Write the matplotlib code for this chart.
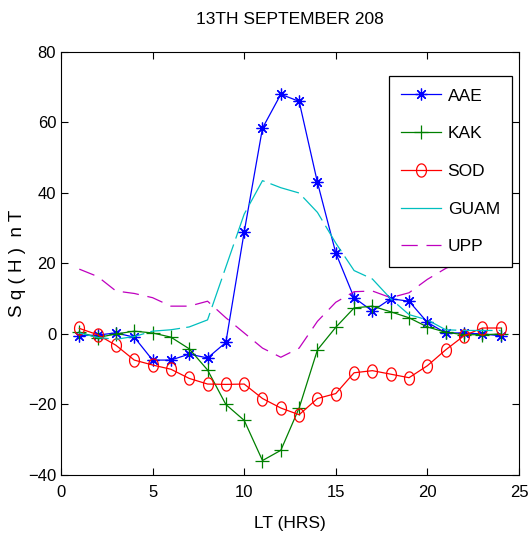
import numpy as np
import matplotlib
matplotlib.use('Agg')
import matplotlib.pyplot as plt
from matplotlib.path import Path
from matplotlib.lines import Line2D

plt.rcParams['font.family'] = ['Liberation Sans Narrow', 'Liberation Sans', 'DejaVu Sans']

lt = list(range(1, 25))
aae = [-0.5, -0.3, 0.3, -0.9, -7.4, -7.4, -5.7, -6.8, -2.4, 28.9, 58.4, 68.0,
       66.0, 43.0, 23.0, 10.3, 6.5, 10.0, 9.3, 3.3, 0.3, 0.3, 0.0, -0.5]
kak = [0.5, -1.0, 0.0, 0.8, 0.3, -0.9, -4.2, -10.2, -20.0, -24.5, -35.9, -33.0,
       -21.0, -4.5, 1.9, 7.4, 7.9, 6.3, 4.6, 2.0, 0.5, -0.2, -0.2, 0.0]
sod = [1.6, -0.2, -3.2, -7.4, -8.8, -10.0, -12.6, -14.2, -14.3, -14.2, -18.3, -21.0,
       -22.9, -18.3, -16.9, -11.0, -10.4, -11.4, -12.4, -9.0, -4.5, -0.5, 1.7, 1.7]
guam = [0.3, -1.0, -1.5, -0.7, 0.8, 1.2, 2.0, 4.0, 19.0, 34.0, 43.5, 41.5,
        40.0, 34.5, 25.8, 18.0, 15.6, 10.0, 5.5, 4.0, 1.2, 1.0, 1.0, 1.0]
upp = [18.4, 16.3, 12.2, 11.5, 10.3, 7.9, 7.9, 9.3, 4.6, 0.3, -4.0, -6.6,
       -4.0, 3.6, 9.0, 12.0, 12.2, 10.3, 11.7, 15.5, 18.6, 21.0, 22.0, 23.0]

# squashed circle like the reference
t = np.linspace(0, 2*np.pi, 41)
ell = Path(np.column_stack([0.75*np.cos(t), np.sin(t)]))

fig = plt.figure(figsize=(5.29, 5.52), dpi=100)
ax = fig.add_axes([0.1153, 0.1395, 0.8657, 0.7663])

ax.plot(lt, aae, color='b', lw=0.9, marker=(8, 2, 0), ms=8.5, mew=0.9, label='AAE')
ax.plot(lt, kak, color=(0, 0.5, 0), lw=0.9, marker='+', ms=10, mew=0.9, label='KAK')
ax.plot(lt, sod, color='r', lw=0.9, marker=ell, ms=9.5, mew=0.9, mfc='none', label='SOD')
ax.plot(lt, guam, color=(0, 0.75, 0.75), lw=0.9, dashes=(24, 5), label='GUAM')
ax.plot(lt, upp, color=(0.75, 0, 0.75), lw=0.9, dashes=(13, 7), label='UPP')

ax.set_xlim(0, 25)
ax.set_ylim(-40, 80)
ax.set_xticks([0, 5, 10, 15, 20, 25])
ax.set_yticks([-40, -20, 0, 20, 40, 60, 80])
ax.tick_params(direction='in', top=True, right=True, labelsize=12, length=5, width=0.8)
ax.tick_params(axis='x', pad=7)
for s in ax.spines.values():
    s.set_linewidth(0.8)

ax.set_title('13TH SEPTEMBER 208', fontsize=12.5, pad=20)
ax.set_xlabel('LT (HRS)', fontsize=12.5, labelpad=12)
ax.set_ylabel('S q ( H )  n T', fontsize=13.5, labelpad=1)

h, l = ax.get_legend_handles_labels()
h[3] = Line2D([], [], color=(0, 0.75, 0.75), lw=0.9)
leg = ax.legend(h, l, loc='upper right', bbox_to_anchor=(0.996, 0.955), fontsize=12.5,
                frameon=True, fancybox=False, edgecolor='k', framealpha=1,
                handlelength=2.3, labelspacing=1.3, borderpad=0.7, handletextpad=0.4,
                borderaxespad=0.3)
leg.get_frame().set_linewidth(0.9)

fig.savefig('out.png', dpi=100)
